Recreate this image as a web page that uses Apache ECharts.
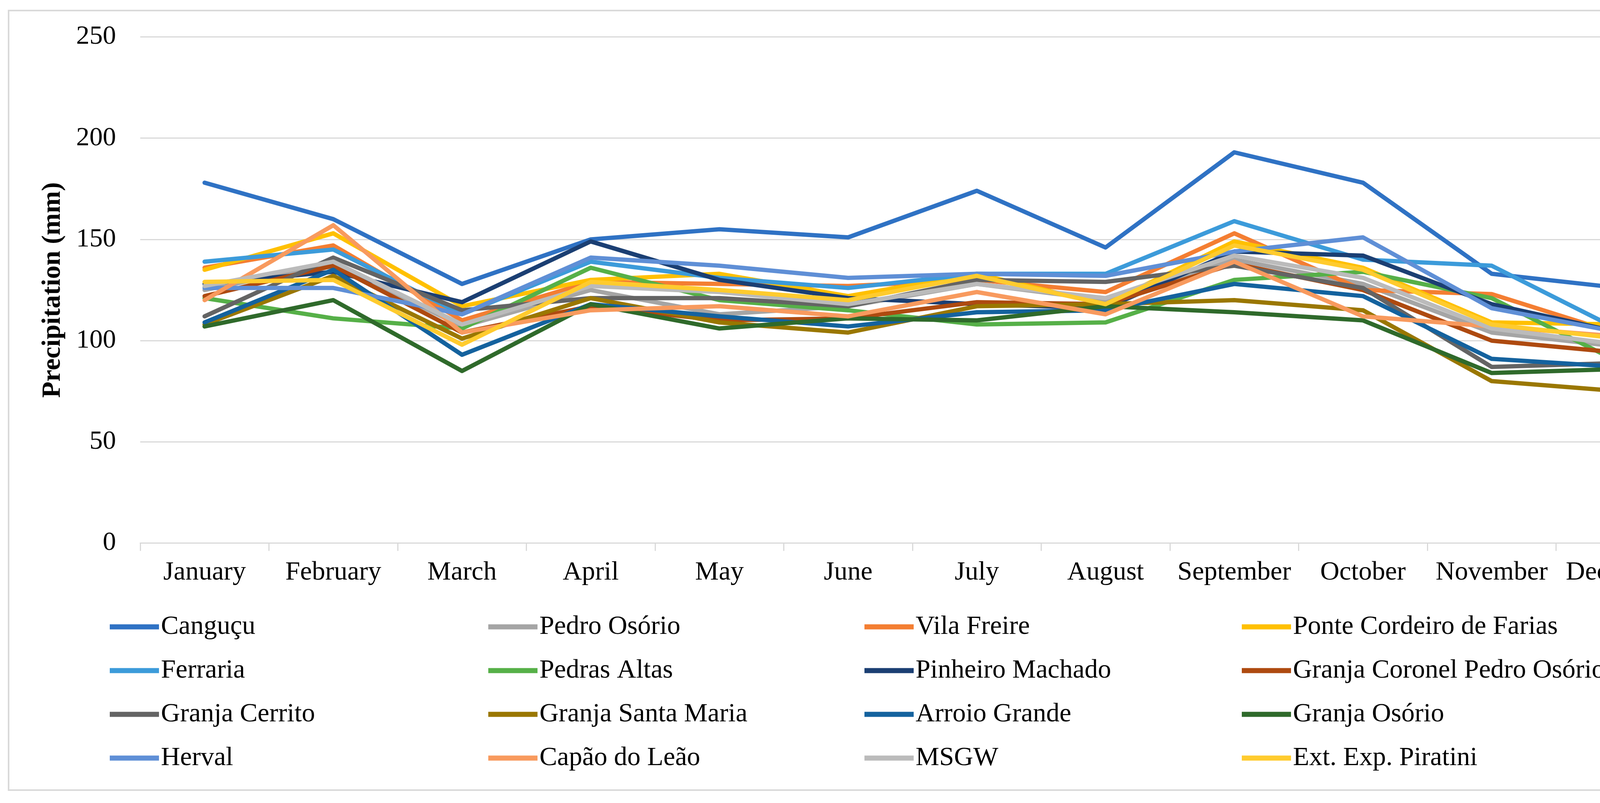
<!DOCTYPE html>
<html>
<head>
<meta charset="utf-8">
<script src="https://cdn.jsdelivr.net/npm/echarts@6/dist/echarts.min.js"></script>
<style>
html,body{margin:0;padding:0;background:#fff;}
#chart{width:4403px;height:2056px;}
</style>
</head>
<body>
<div id="chart"></div>
<script>
const months = ['January','February','March','April','May','June','July','August','September','October','November','December'];

const cangucu        = [178, 160, 128, 150, 155, 151, 174, 146, 193, 178, 133, 126];
const pedroOsorio    = [125, 138, 107, 125, 113, 117, 128, 120, 140, 128, 104, 97];
const vilaFreire     = [136, 147, 110, 129, 128, 127, 130, 124, 153, 125, 123, 103];
const ponteCordeiro  = [135, 153, 117, 130, 133, 122, 133, 118, 149, 136, 109, 108];
const ferraria       = [139, 145, 113, 139, 131, 126, 133, 133, 159, 140, 137, 105];
const pedrasAltas    = [121, 111, 106, 136, 120, 115, 108, 109, 130, 134, 121, 89];
const pinheiroMachado= [128, 134, 119, 149, 130, 121, 118, 116, 144, 142, 118, 104];
const granjaCoronel  = [122, 137, 104, 117, 110, 111, 119, 118, 138, 125, 100, 94];
const granjaCerrito  = [112, 141, 115, 121, 121, 117, 130, 129, 137, 126, 87, 89];
const granjaSantaMaria=[108, 132, 101, 121, 109, 104, 117, 118, 120, 115, 80, 75];
const arroioGrande   = [109, 135, 93, 118, 112, 107, 114, 115, 128, 122, 91, 87];
const granjaOsorio   = [107, 120, 85, 118, 106, 111, 110, 117, 114, 110, 84, 86];
const herval         = [126, 126, 113, 141, 137, 131, 133, 132, 144, 151, 116, 104];
const capaoLeao      = [120, 157, 104, 115, 117, 112, 124, 113, 139, 112, 107, 102];
const msgw           = [127, 139, 108, 127, 124, 118, 128, 121, 142, 131, 106, 98];
const extPiratini    = [129, 130, 98, 129, 125, 120, 132, 118, 147, 135, 108, 101];

const seriesNames = ['Canguçu','Pedro Osório','Vila Freire','Ponte Cordeiro de Farias',
  'Ferraria','Pedras Altas','Pinheiro Machado','Granja Coronel Pedro Osório',
  'Granja Cerrito','Granja Santa Maria','Arroio Grande','Granja Osório',
  'Herval','Capão do Leão','MSGW','Ext. Exp. Piratini'];
const seriesData = [cangucu, pedroOsorio, vilaFreire, ponteCordeiro, ferraria, pedrasAltas,
  pinheiroMachado, granjaCoronel, granjaCerrito, granjaSantaMaria, arroioGrande, granjaOsorio,
  herval, capaoLeao, msgw, extPiratini];
const seriesColors = ['#2F72C4','#A5A5A5','#F47E32','#FFC000','#3C9BDA','#56B048',
  '#1B3F73','#AE4A10','#646464','#9A7700','#14629E','#2F6A2B',
  '#5F8FD6','#F89A5E','#BBBBBB','#FFCB2E'];

const FONT = 'Liberation Serif';

const legendCols = [
  ['Canguçu','Ferraria','Granja Cerrito','Herval'],
  ['Pedro Osório','Pedras Altas','Granja Santa Maria','Capão do Leão'],
  ['Vila Freire','Pinheiro Machado','Arroio Grande','MSGW'],
  ['Ponte Cordeiro de Farias','Granja Coronel Pedro Osório','Granja Osório','Ext. Exp. Piratini']
];
const legendLeft = [281, 1250, 2213, 3179];

const chart = echarts.init(document.getElementById('chart'), null, {renderer:'canvas'});

const option = {
  backgroundColor: '#ffffff',
  animation: false,
  color: seriesColors,
  graphic: [{
    type: 'rect',
    shape: {x: 22, y: 27, width: 4358, height: 1996},
    style: {fill: 'none', stroke: '#D9D9D9', lineWidth: 4},
    silent: true
  }],
  grid: {left: 359, right: 90, top: 94.5, bottom: 665.4, containLabel: false},
  xAxis: {
    type: 'category',
    data: months,
    boundaryGap: true,
    axisLine: {show: true, lineStyle: {color: '#D9D9D9', width: 3}},
    axisTick: {show: true, length: 20, lineStyle: {color: '#D9D9D9', width: 3}},
    axisLabel: {color: '#000', fontFamily: FONT, fontSize: 68, margin: 42, interval: 0, hideOverlap: false},
    splitLine: {show: false}
  },
  yAxis: {
    type: 'value',
    min: 0, max: 250, interval: 50,
    name: 'Precipitation (mm)',
    nameLocation: 'middle',
    nameGap: 190,
    nameRotate: 90,
    nameTextStyle: {color: '#000', fontFamily: FONT, fontSize: 68, fontWeight: 'bold'},
    axisLine: {show: false},
    axisTick: {show: false},
    axisLabel: {color: '#000', fontFamily: FONT, fontSize: 68, margin: 62},
    splitLine: {show: true, lineStyle: {color: '#D9D9D9', width: 3}}
  },
  legend: legendCols.map((col, i) => ({
    data: col,
    orient: 'vertical',
    left: legendLeft[i],
    top: 1565,
    itemGap: 32,
    itemWidth: 126,
    itemHeight: 13,
    icon: 'rect',
    padding: 0,
    selectedMode: false,
    textStyle: {color: '#000', fontFamily: FONT, fontSize: 68, lineHeight: 80, padding: [0,0,0,0]}
  })),
  series: seriesNames.map((name, i) => ({
    name: name,
    type: 'line',
    data: seriesData[i],
    symbol: 'none',
    showSymbol: false,
    smooth: false,
    lineStyle: {width: 11, color: seriesColors[i], cap: 'round', join: 'round'},
    itemStyle: {color: seriesColors[i]},
    z: 2 + i
  }))
};
chart.setOption(option);
</script>
</body>
</html>
